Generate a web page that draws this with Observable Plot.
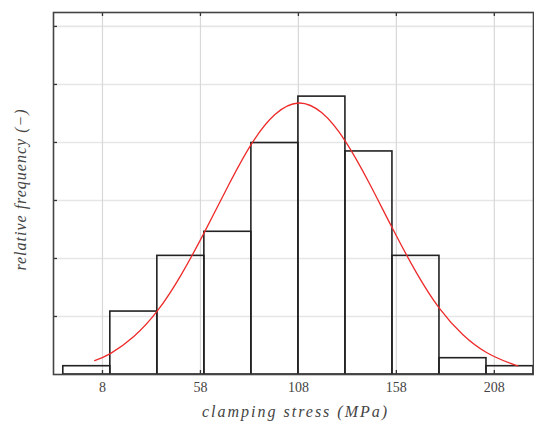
<!DOCTYPE html>
<html>
<head>
<meta charset="utf-8">
<script src="https://cdn.jsdelivr.net/npm/d3@7"></script>
<script src="https://cdn.jsdelivr.net/npm/@observablehq/plot@0.6"></script>
<style>
  html, body { margin: 0; padding: 0; background: #fff; }
  svg { display: block; }
</style>
</head>
<body>
<div id="chart"></div>
<script>
// Histogram bins (MPa) and relative frequency density
const binLeft  = [-12, 12, 36, 60, 84, 108, 132, 156, 180, 204];
const binRight = [12, 36, 60, 84, 108, 132, 156, 180, 204, 228];
const density  = [0.000286, 0.00217, 0.00409, 0.00492, 0.00798, 0.00958, 0.00769, 0.00409, 0.000562, 0.000286];

// Fitted normal density curve
const curveX = [4, 12, 24, 36, 48, 60, 72, 84, 96, 108, 120, 132, 144, 156, 168, 180, 192, 204, 216, 220];
const curveY = [0.000482, 0.00072, 0.00131, 0.00219, 0.00342, 0.0049, 0.00648, 0.00794, 0.00896, 0.00936,
                0.00902, 0.00804, 0.00662, 0.00504, 0.00354, 0.00228, 0.00137, 0.00076, 0.00039, 0.0003];

const xTicks = [8, 58, 108, 158, 208];
const yTicks = [0.002, 0.004, 0.006, 0.008, 0.010, 0.012];

const xLabel = "clamping stress (MPa)";
const yLabel = "relative frequency (−)";

const bins = binLeft.map((l, i) => ({x1: l, x2: binRight[i], y: density[i]}));
const curve = curveX.map((x, i) => ({x, y: curveY[i]}));

const W = 534, H = 421;
const mL = 53, mR = 1, mT = 12, mB = 47;
const xDom = [-17, 228], yDom = [0, 0.01248];
const tickPx = 4;
const tx = tickPx * (xDom[1] - xDom[0]) / (W - mL - mR);
const ty = tickPx * (yDom[1] - yDom[0]) / (H - mT - mB);

const serif = "'Liberation Serif', 'DejaVu Serif', serif";

const chart = Plot.plot({
  width: W,
  height: H,
  marginLeft: mL,
  marginRight: mR,
  marginTop: mT,
  marginBottom: mB,
  style: {fontFamily: serif, background: "#fff"},
  x: {domain: xDom, axis: null},
  y: {domain: yDom, axis: null},
  marks: [
    Plot.ruleY(yTicks, {y: d => d, stroke: "#e6e6e6", strokeWidth: 1.6}),
    Plot.ruleX(xTicks, {x: d => d, stroke: "#d8d8d8", strokeWidth: 1.2}),
    Plot.rect(bins, {x1: "x1", x2: "x2", y1: 0, y2: "y", fill: "none", stroke: "#222", strokeWidth: 1.6}),
    Plot.line(curve, {x: "x", y: "y", curve: "natural", stroke: "#ee2a2a", strokeWidth: 1.3}),
    // inward ticks
    Plot.ruleX(xTicks, {x: d => d, y1: yDom[0], y2: yDom[0] + ty, stroke: "#333", strokeWidth: 1.3}),
    Plot.ruleX(xTicks, {x: d => d, y1: yDom[1], y2: yDom[1] - ty, stroke: "#333", strokeWidth: 1.3}),
    Plot.ruleY(yTicks, {y: d => d, x1: xDom[0], x2: xDom[0] + tx, stroke: "#333", strokeWidth: 1.3}),
    Plot.frame({stroke: "#444", strokeWidth: 1.6}),
    Plot.text(xTicks, {x: d => d, y: yDom[0], text: d => String(d), dy: 13, fontSize: 14, fill: "#444", lineAnchor: "middle"}),
    Plot.text([xLabel], {frameAnchor: "bottom", text: d => d, dx: 2, dy: 37, fontSize: 16, fontStyle: "italic", fill: "#444", textAnchor: "middle", lineAnchor: "middle"}),
    Plot.text([yLabel], {frameAnchor: "left", text: d => d, dx: -33, dy: -4, rotate: -90, fontSize: 16, fontStyle: "italic", fill: "#444", textAnchor: "middle", lineAnchor: "middle"})
  ]
});

// widen the italic axis titles (math-italic look)
d3.select(chart).selectAll("text").each(function () {
  const t = this.textContent;
  if (t === xLabel) this.setAttribute("letter-spacing", "2px");
  if (t === yLabel) this.setAttribute("letter-spacing", "1px");
});

document.getElementById("chart").appendChild(chart);
</script>
</body>
</html>
